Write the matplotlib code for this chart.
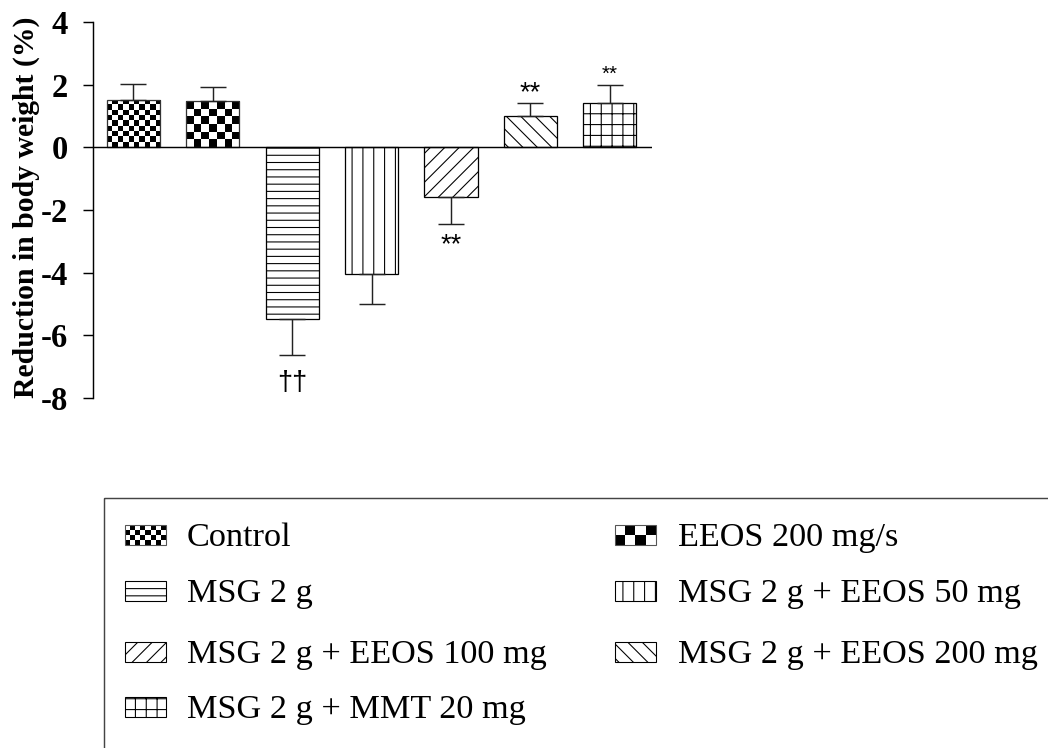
import numpy as np
import matplotlib
matplotlib.use('Agg')
import matplotlib.pyplot as plt
from matplotlib.patches import Rectangle

# data
groups = ['Control', 'EEOS 200 mg/s', 'MSG 2 g', 'MSG 2 g + EEOS 50 mg',
          'MSG 2 g + EEOS 100 mg', 'MSG 2 g + EEOS 200 mg', 'MSG 2 g + MMT 20 mg']
means = [1.52, 1.47, -5.48, -4.06, -1.57, 1.00, 1.43]
sems = [0.50, 0.46, 1.14, 0.94, 0.88, 0.43, 0.56]
marks = ['', '', '\u2020\u2020', '', '**', '**', '**']
yticks = [4, 2, 0, -2, -4, -6, -8]

# fill styles: ('check', cols, cell height in data units) or a hatch string
fills = [('check', 10, 0.17), ('check', 7, 0.245), '---', '||', '///', '\\\\\\', '++']
mark_size = [0, 0, 15, 0, 15, 15, 11.5]
mark_off = [0, 0, -19.5, 0, -15.5, 1.1, 2.7]

W, H, DPI = 1048, 748, 130
plt.rcParams['font.family'] = ['Liberation Serif', 'DejaVu Serif']
plt.rcParams['hatch.linewidth'] = 0.6

fig = plt.figure(figsize=(W / DPI, H / DPI), dpi=DPI)
ax = fig.add_axes([0.0885, 0.4683, 0.5336, 0.5019])

x = np.arange(len(groups))
bw = 0.667


def checker(cols, rows):
    return np.indices((rows, cols)).sum(axis=0) % 2


for i, (m, f) in enumerate(zip(means, fills)):
    if isinstance(f, tuple):
        bar = ax.bar(x[i], m, bw, facecolor='none', edgecolor='#333333',
                     linewidth=0.7, zorder=3)[0]
        rows = max(1, int(round(abs(m) / f[2])))
        im = ax.imshow(checker(f[1], rows), cmap='gray_r', interpolation='nearest',
                       extent=(x[i] - bw / 2, x[i] + bw / 2, min(0, m), max(0, m)),
                       origin='lower', aspect='auto', zorder=2)
        im.set_clip_path(bar)
    else:
        ax.bar(x[i], m, bw, facecolor='white', edgecolor='black', hatch=f,
               linewidth=0.7, zorder=3)

lower = [s if m < 0 else 0 for m, s in zip(means, sems)]
upper = [s if m > 0 else 0 for m, s in zip(means, sems)]
ax.errorbar(x, means, yerr=[lower, upper], fmt='none', ecolor='#222222',
            elinewidth=0.8, capsize=7, capthick=0.8, zorder=4)

for i, t in enumerate(marks):
    if not t:
        continue
    yend = means[i] + upper[i] - lower[i]
    ax.annotate(t, xy=(x[i], yend), xytext=(0, mark_off[i]), textcoords='offset points',
                ha='center', va='baseline', fontsize=mark_size[i],
                family=['Liberation Sans', 'DejaVu Sans'])

ax.axhline(0, color='black', linewidth=0.8, zorder=5)
ax.set_xlim(-0.507, 6.528)
ax.set_ylim(-8, 4)
ax.set_yticks(yticks)
ax.set_yticklabels([str(v) for v in yticks], fontsize=18, fontweight='bold')
ax.set_xticks([])
for s in ['top', 'right', 'bottom']:
    ax.spines[s].set_visible(False)
ax.spines['left'].set_linewidth(0.8)
ax.tick_params(axis='y', direction='out', length=5.5, width=0.8, pad=8)
ax.patch.set_alpha(0)

fig.text(26 / W, 1 - 207 / H, 'Reduction in body weight (%)', rotation=90,
         ha='center', va='center', fontsize=16.5, fontweight='bold')

# legend drawn on an overlay in pixel units
lax = fig.add_axes([0, 0, 1, 1])
lax.set_xlim(0, W)
lax.set_ylim(H, 0)
lax.axis('off')
lax.patch.set_alpha(0)
lax.add_patch(Rectangle((104, 498), 1000, 300, facecolor='none', edgecolor='#444444',
                        linewidth=0.8))

col_patch = [125, 615]
col_text = [187, 678]
row_base = [546, 602, 663, 718]
leg_checks = [(8, 4), (4, 2)]
for i, name in enumerate(groups):
    r, c = divmod(i, 2)
    px, yc = col_patch[c], row_base[r] - 11
    f = fills[i]
    if isinstance(f, tuple):
        cols, rows = leg_checks[i]
        lax.imshow(checker(cols, rows), cmap='gray_r', interpolation='nearest',
                   extent=(px, px + 41, yc + 10, yc - 10), aspect='auto')
        lax.add_patch(Rectangle((px, yc - 10), 41, 20, facecolor='none',
                                edgecolor='#555555', linewidth=0.6))
    else:
        lax.add_patch(Rectangle((px, yc - 10), 41, 20, facecolor='white',
                                edgecolor='black', hatch=f, linewidth=0.6))
    lax.text(col_text[c], row_base[r], name, ha='left', va='baseline', fontsize=19)
lax.set_xlim(0, W)
lax.set_ylim(H, 0)

fig.savefig('out.png', dpi=DPI)
